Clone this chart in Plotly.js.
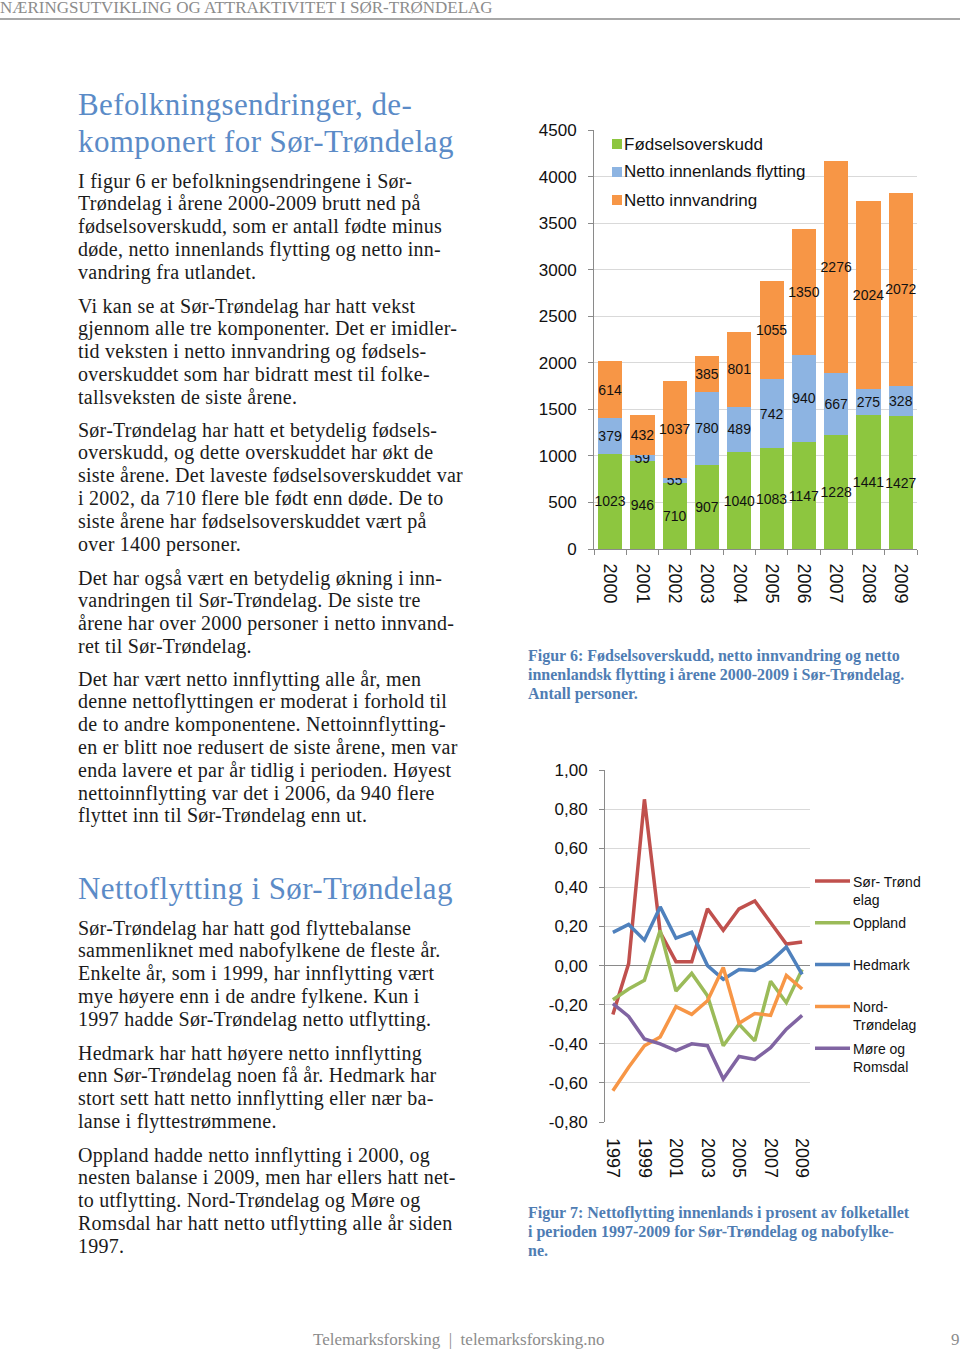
<!DOCTYPE html>
<html>
<head>
<meta charset="utf-8">
<script src="https://cdn.plot.ly/plotly-3.0.1.min.js"></script>
<style>
html,body{margin:0;padding:0;background:#fff;}
body{width:960px;height:1350px;position:relative;overflow:hidden;font-family:"Liberation Serif","Times New Roman",serif;color:#1b1b1b;}
.hdr{position:absolute;left:0;top:-1px;font-size:17px;line-height:18px;color:#8c8c8c;white-space:nowrap;}
.rule{position:absolute;left:0;top:18px;width:960px;height:2px;background:#a8a8a8;}
.h{position:absolute;left:78px;font-size:31px;line-height:37px;letter-spacing:0.4px;color:#5b8bc7;white-space:nowrap;}
.p{position:absolute;left:78px;font-size:20px;line-height:22.8px;letter-spacing:0.25px;white-space:nowrap;}
.cap{position:absolute;left:528px;font-size:16px;line-height:19px;font-weight:bold;color:#4f7db3;white-space:nowrap;}
.foot{position:absolute;top:1330px;font-size:17px;line-height:20px;color:#8c8c8c;white-space:nowrap;}
#bar{position:absolute;left:520px;top:110px;width:440px;height:510px;}
#line{position:absolute;left:520px;top:740px;width:440px;height:470px;}
</style>
</head>
<body>
<div class="hdr">NÆRINGSUTVIKLING OG ATTRAKTIVITET I SØR-TRØNDELAG</div>
<div class="rule"></div>

<div class="h" style="top:86px">Befolkningsendringer, de-<br>komponert for Sør-Trøndelag</div>

<div class="p" style="top:169.6px">I figur 6 er befolkningsendringene i Sør-<br>Trøndelag i årene 2000-2009 brutt ned på<br>fødselsoverskudd, som er antall fødte minus<br>døde, netto innenlands flytting og netto inn-<br>vandring fra utlandet.</div>

<div class="p" style="top:294.6px">Vi kan se at Sør-Trøndelag har hatt vekst<br>gjennom alle tre komponenter. Det er imidler-<br>tid veksten i netto innvandring og fødsels-<br>overskuddet som har bidratt mest til folke-<br>tallsveksten de siste årene.</div>

<div class="p" style="top:418.6px">Sør-Trøndelag har hatt et betydelig fødsels-<br>overskudd, og dette overskuddet har økt de<br>siste årene. Det laveste fødselsoverskuddet var<br>i 2002, da 710 flere ble født enn døde. De to<br>siste årene har fødselsoverskuddet vært på<br>over 1400 personer.</div>

<div class="p" style="top:566.6px">Det har også vært en betydelig økning i inn-<br>vandringen til Sør-Trøndelag. De siste tre<br>årene har over 2000 personer i netto innvand-<br>ret til Sør-Trøndelag.</div>

<div class="p" style="top:667.6px">Det har vært netto innflytting alle år, men<br>denne nettoflyttingen er moderat i forhold til<br>de to andre komponentene. Nettoinnflytting-<br>en er blitt noe redusert de siste årene, men var<br>enda lavere et par år tidlig i perioden. Høyest<br>nettoinnflytting var det i 2006, da 940 flere<br>flyttet inn til Sør-Trøndelag enn ut.</div>

<div class="h" style="top:870px">Nettoflytting i Sør-Trøndelag</div>

<div class="p" style="top:916.6px">Sør-Trøndelag har hatt god flyttebalanse<br>sammenliknet med nabofylkene de fleste år.<br>Enkelte år, som i 1999, har innflytting vært<br>mye høyere enn i de andre fylkene. Kun i<br>1997 hadde Sør-Trøndelag netto utflytting.</div>

<div class="p" style="top:1041.6px">Hedmark har hatt høyere netto innflytting<br>enn Sør-Trøndelag noen få år. Hedmark har<br>stort sett hatt netto innflytting eller nær ba-<br>lanse i flyttestrømmene.</div>

<div class="p" style="top:1143.6px">Oppland hadde netto innflytting i 2000, og<br>nesten balanse i 2009, men har ellers hatt net-<br>to utflytting. Nord-Trøndelag og Møre og<br>Romsdal har hatt netto utflytting alle år siden<br>1997.</div>

<div class="cap" style="top:645.5px">Figur 6: Fødselsoverskudd, netto innvandring og netto<br>innenlandsk flytting i årene 2000-2009 i Sør-Trøndelag.<br>Antall personer.</div>

<div class="cap" style="top:1202.5px">Figur 7: Nettoflytting innenlands i prosent av folketallet<br>i perioden 1997-2009 for Sør-Trøndelag og nabofylke-<br>ne.</div>

<div class="foot" style="left:313px">Telemarksforsking&nbsp; | &nbsp;telemarksforsking.no</div>
<div class="foot" style="left:951px">9</div>

<div id="bar"></div>
<div id="line"></div>

<script>
// ---------- Figure 6 data ----------
const years = ['2000','2001','2002','2003','2004','2005','2006','2007','2008','2009'];
const fodselsoverskudd = [1023, 946, 710, 907, 1040, 1083, 1147, 1228, 1441, 1427];
const nettoInnenlandsFlytting = [379, 59, 55, 780, 489, 742, 940, 667, 275, 328];
const nettoInnvandring = [614, 432, 1037, 385, 801, 1055, 1350, 2276, 2024, 2072];
const barSeriesNames = ['Fødselsoverskudd', 'Netto innenlands flytting', 'Netto innvandring'];
const barColors = ['#8dc63f', '#8db4e2', '#f79646'];
const barYTicks = [0, 500, 1000, 1500, 2000, 2500, 3000, 3500, 4000, 4500];

// ---------- Figure 7 data ----------
const lineYears = [1997, 1998, 1999, 2000, 2001, 2002, 2003, 2004, 2005, 2006, 2007, 2008, 2009];
const lineXTickYears = [1997, 1999, 2001, 2003, 2005, 2007, 2009];
const sorTrondelag   = [-0.25, 0.01, 0.85, 0.17, 0.02, 0.02, 0.29, 0.18, 0.29, 0.33, 0.22, 0.11, 0.12];
const oppland        = [-0.175, -0.12, -0.075, 0.18, -0.13, -0.04, -0.155, -0.41, -0.30, -0.385, -0.08, -0.19, -0.02];
const hedmark        = [0.17, 0.21, 0.13, 0.30, 0.14, 0.17, 0.00, -0.07, -0.02, -0.025, 0.02, 0.095, -0.045];
const nordTrondelag  = [-0.64, -0.52, -0.41, -0.365, -0.21, -0.25, -0.18, -0.01, -0.295, -0.245, -0.255, -0.05, -0.12];
const moreOgRomsdal  = [-0.195, -0.26, -0.375, -0.40, -0.435, -0.40, -0.41, -0.58, -0.465, -0.48, -0.42, -0.325, -0.255];
const lineSeriesNames = ['Sør- Trønd<br>elag', 'Oppland', 'Hedmark', 'Nord-<br>Trøndelag', 'Møre og<br>Romsdal'];
const lineColors = ['#c0504d', '#9bbb59', '#4f81bd', '#f79646', '#8064a2'];
const lineYTicks = [-0.8, -0.6, -0.4, -0.2, 0, 0.2, 0.4, 0.6, 0.8, 1.0];
const lineYTickLabels = ['-0,80', '-0,60', '-0,40', '-0,20', '0,00', '0,20', '0,40', '0,60', '0,80', '1,00'];

const SANS = '"Liberation Sans", Arial, Helvetica, sans-serif';

// ---------- Figure 6 ----------
const barValues = [fodselsoverskudd, nettoInnenlandsFlytting, nettoInnvandring];
const barTraces = barValues.map((vals, i) => ({
  type: 'bar',
  x: years,
  y: vals,
  name: barSeriesNames[i],
  marker: {color: barColors[i], line: {width: 0}},
  text: vals.map(String),
  textposition: 'inside',
  insidetextanchor: 'middle',
  textangle: 0,
  textfont: {family: SANS, size: 14, color: '#111'},
  constraintext: 'none',
  cliponaxis: false,
  hoverinfo: 'x+y+name',
  showlegend: false
}));

// custom legend (swatch + label) in paper coordinates
const bW = 323, bH = 419;
const barLegendShapes = [], barLegendAnn = [];
barSeriesNames.forEach((nm, i) => {
  const yc = (bH - (14 + i * 28)) / bH;
  barLegendShapes.push({
    type: 'rect', xref: 'paper', yref: 'paper',
    x0: 18 / bW, x1: 28 / bW, y0: yc - 5 / bH, y1: yc + 5 / bH,
    fillcolor: barColors[i], line: {width: 0}
  });
  barLegendAnn.push({
    xref: 'paper', yref: 'paper', x: 28 / bW, y: yc,
    xanchor: 'left', yanchor: 'middle', showarrow: false,
    text: nm, font: {family: SANS, size: 17, color: '#111'}
  });
});

Plotly.newPlot('bar', barTraces, {
  barmode: 'stack',
  bargap: 0.25,
  width: 440, height: 510,
  margin: {l: 74, r: 43, t: 20, b: 71},
  paper_bgcolor: 'rgba(0,0,0,0)',
  plot_bgcolor: 'rgba(0,0,0,0)',
  font: {family: SANS, size: 17, color: '#111'},
  uniformtext: {mode: 'show', minsize: 14},
  xaxis: {
    type: 'category', tickangle: 90, showgrid: false,
    showline: true, linecolor: '#8a8a8a', linewidth: 1,
    ticks: 'outside', tickson: 'boundaries', ticklen: 5, tickcolor: '#8a8a8a',
    ticklabelstandoff: 10,
    tickfont: {family: SANS, size: 18, color: '#111'}
  },
  yaxis: {
    range: [0, 4500], tickvals: barYTicks, ticktext: barYTicks.map(String),
    showgrid: true, gridcolor: '#d9d9d9', gridwidth: 1,
    showline: true, linecolor: '#8a8a8a', linewidth: 1, zeroline: false,
    ticks: 'outside', ticklen: 5, tickcolor: '#8a8a8a',
    ticklabelstandoff: 8,
    tickfont: {family: SANS, size: 17, color: '#111'}
  },
  shapes: barLegendShapes,
  annotations: barLegendAnn
}, {displayModeBar: false, staticPlot: true});

// ---------- Figure 7 ----------
const lineValues = [sorTrondelag, oppland, hedmark, nordTrondelag, moreOgRomsdal];
const lineTraces = lineValues.map((vals, i) => ({
  type: 'scatter', mode: 'lines',
  x: lineYears, y: vals,
  name: lineSeriesNames[i].replace('<br>', ' '),
  line: {color: lineColors[i], width: 3.5},
  showlegend: false
}));

const lW = 205, lH = 352;
const yMin = lineYTicks[0], yMax = lineYTicks[lineYTicks.length - 1];
const xRange = [lineYears[0] - 0.5, lineYears[lineYears.length - 1] + 0.5];
const boundaries = lineYears.slice(0, -1).map(y => y + 0.5);

const lineLegendShapes = [], lineLegendAnn = [];
lineSeriesNames.forEach((nm, i) => {
  const pyFromTop = 111 + i * 41.8;           // first text line centre, px from plot top
  const yc = (lH - pyFromTop) / lH;
  lineLegendShapes.push({
    type: 'line', xref: 'paper', yref: 'paper',
    x0: 210 / lW, x1: 245 / lW, y0: yc, y1: yc,
    line: {color: lineColors[i], width: 3.5}
  });
  lineLegendAnn.push({
    xref: 'paper', yref: 'paper', x: 246 / lW, y: yc + 9.5 / lH,
    xanchor: 'left', yanchor: 'top', align: 'left', showarrow: false,
    text: nm, font: {family: SANS, size: 14, color: '#111'}
  });
});

Plotly.newPlot('line', lineTraces, {
  width: 440, height: 470,
  margin: {l: 85, r: 150, t: 30, b: 88},
  paper_bgcolor: 'rgba(0,0,0,0)',
  plot_bgcolor: 'rgba(0,0,0,0)',
  font: {family: SANS, size: 17, color: '#111'},
  xaxis: {
    range: xRange, tickvals: lineXTickYears, ticktext: lineXTickYears.map(String),
    tickangle: 90, showgrid: false, showline: false, zeroline: false,
    ticks: '', ticklabelstandoff: 15,
    tickfont: {family: SANS, size: 18, color: '#111'}
  },
  xaxis2: {
    overlaying: 'x', anchor: 'free', position: (0 - yMin) / (yMax - yMin),
    range: xRange, tickvals: boundaries, showticklabels: false,
    ticks: 'outside', ticklen: 4, tickcolor: '#8a8a8a',
    showgrid: false, zeroline: false, showline: false
  },
  yaxis: {
    range: [yMin, yMax], tickvals: lineYTicks, ticktext: lineYTickLabels,
    showgrid: true, gridcolor: '#d9d9d9', gridwidth: 1,
    zeroline: true, zerolinecolor: '#8a8a8a', zerolinewidth: 1,
    showline: true, linecolor: '#8a8a8a', linewidth: 1,
    ticks: 'outside', ticklen: 5, tickcolor: '#8a8a8a',
    ticklabelstandoff: 8,
    tickfont: {family: SANS, size: 17, color: '#111'}
  },
  shapes: lineLegendShapes,
  annotations: lineLegendAnn
}, {displayModeBar: false, staticPlot: true});
</script>
</body>
</html>
